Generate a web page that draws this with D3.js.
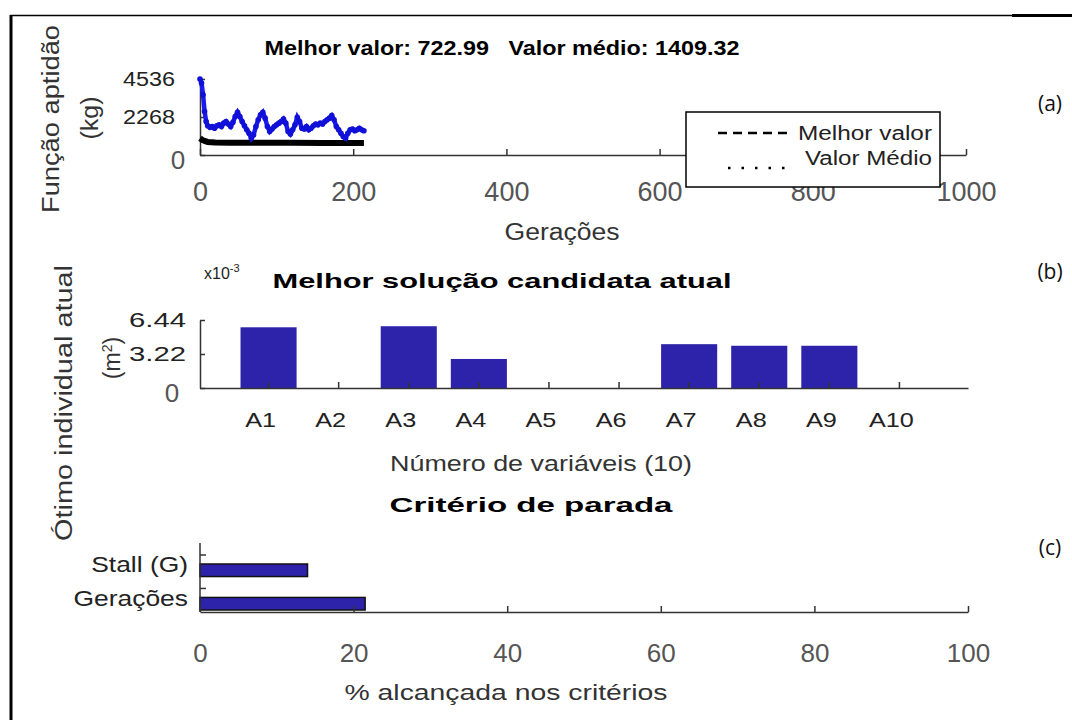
<!DOCTYPE html>
<html>
<head>
<meta charset="utf-8">
<script src="https://cdn.jsdelivr.net/npm/d3@7"></script>
<style>
body{margin:0;background:#fff}
text{font-family:"Liberation Sans",Arial,sans-serif}
.axis path,.axis line{stroke:#333;stroke-width:1.5px}
</style>
</head>
<body>
<div id="fig"></div>
<script>
// (a) evolucao da aptidao por geracao
var genMedia = [0,2,4,6,8,10,13,16,19,22,25,28,31,34,37,40,43,46,49,52,55,58,61,64,67,70,73,76,79,82,85,88,91,94,97,100,103,106,109,112,115,118,121,124,127,130,133,136,139,142,145,148,151,154,157,160,163,166,169,172,175,178,181,184,187,190,193,196,199,202,205,208,211,214];
var valMedia = [4536,4300,3600,2600,2000,1750,1650,1700,1600,1750,1800,1700,1900,2000,1850,1700,1950,2300,2550,2300,2000,1750,1500,1300,1000,1200,1700,2100,2400,2550,2200,1700,1400,1550,1700,1800,1900,2000,2150,1900,1400,1250,1500,1800,2250,2000,1600,1550,1700,1500,1600,1750,1850,1800,1900,1850,2000,2100,2200,2350,2100,1700,1500,1300,1100,1000,1300,1500,1550,1450,1500,1600,1500,1450];
var genMelhor = [0,3,6,10,20,40,80,120,160,214];
var valMelhor = [1000,900,840,780,750,735,728,725,723,723];
var ticksGer = [0,200,400,600,800,1000];
var ticksApt = [0,2268,4536];

// (b) melhor individuo
var variaveis = ["A1","A2","A3","A4","A5","A6","A7","A8","A9","A10"];
var areas = [5.75,0,5.85,2.75,0,0,4.15,4.0,4.0,0];   // x10^-3 m2
var ticksArea = [0,3.22,6.44];

// (c) criterios de parada
var criterios = ["Stall (G)","Gerações"];
var percentual = [14,21.5];
var ticksPct = [0,20,40,60,80,100];

var W = 1072, H = 720;
var svg = d3.select("#fig").append("svg")
	.attr("width",W).attr("height",H);

// moldura
svg.append("line").attr("x1",11).attr("x2",11).attr("y1",15).attr("y2",H)
	.attr("stroke","#000").attr("stroke-width",3);
svg.append("line").attr("x1",10).attr("x2",1012).attr("y1",15.5).attr("y2",15.5)
	.attr("stroke","#000").attr("stroke-width",1.5);
svg.append("line").attr("x1",1012).attr("x2",W).attr("y1",15.5).attr("y2",15.5)
	.attr("stroke","#000").attr("stroke-width",3);

// the reference picture is stretched sideways, so text widths are forced
function fit(sel,len){
	return sel.attr("textLength",len).attr("lengthAdjust","spacingAndGlyphs");
}
function stretch(sel,sx){
	sel.each(function(){
		var l = this.getComputedTextLength();
		d3.select(this).attr("textLength",l*sx).attr("lengthAdjust","spacingAndGlyphs");
	});
	return sel;
}
function label(str,x,y,size,len,opts){
	opts = opts || {};
	var t = svg.append("text")
		.attr("x",x).attr("y",y)
		.attr("text-anchor",opts.anchor || "middle")
		.style("font-size",size+"px")
		.style("font-weight",opts.bold ? "bold" : "normal")
		.attr("fill",opts.fill || "#333")
		.text(str);
	if(len) fit(t,len);
	return t;
}
function rotLabel(str,x,y,size,len){
	var t = svg.append("text")
		.attr("transform","translate("+x+","+y+")rotate(-90)")
		.attr("text-anchor","middle")
		.attr("dy","0.35em")
		.style("font-size",size+"px")
		.attr("fill","#333")
		.text(str);
	if(len) fit(t,len);
	return t;
}
function zeroStyle(g,dx){
	g.selectAll(".tick text").filter(function(d){return d===0;})
		.style("font-size","26px").attr("fill","#555")
		.attr("text-anchor","middle").attr("x",dx).attr("dy","0.5em")
		.attr("textLength",null);
}

// ---------- (a) ----------
var x1 = d3.scaleLinear().domain([0,1000]).range([200,966]);
var y1 = d3.scaleLinear().domain([0,4536]).range([155,79]);

label("Melhor valor: 722.99   Valor médio: 1409.32",502,55,21,475,{bold:true,fill:"#000"})
	.style("white-space","pre");

svg.append("g").attr("class","axis")
	.attr("transform","translate(0,155)")
	.call(d3.axisBottom(x1).tickValues(ticksGer).tickFormat(d3.format("d"))
		.tickSizeInner(-6).tickSizeOuter(0).tickPadding(27))
	.selectAll("text").style("font-size","27px").attr("fill","#555");

svg.append("g").attr("class","axis")
	.attr("transform","translate(200,0)")
	.call(d3.axisLeft(y1).tickValues(ticksApt).tickFormat(d3.format("d"))
		.tickSizeInner(-5).tickSizeOuter(0).tickPadding(25))
	.call(function(g){
		fit(g.selectAll("text").style("font-size","20px").attr("fill","#222"),52);
		zeroStyle(g,-22);
	});

rotLabel("Função aptidão",51,119,23,188);
rotLabel("(kg)",90,118,23,43);
label("Gerações",562,240,23,115);

var serieMedia = genMedia.map(function(g,i){return [g,valMedia[i]];});
var serieMelhor = genMelhor.map(function(g,i){return [g,valMelhor[i]];});
var linha = d3.line().x(function(d){return x1(d[0]);}).y(function(d){return y1(d[1]);});

svg.append("path").datum(serieMelhor)
	.attr("d",linha).attr("fill","none")
	.attr("stroke","#000").attr("stroke-width",6);
svg.append("path").datum(serieMedia)
	.attr("d",linha).attr("fill","none")
	.attr("stroke","#1a1aee").attr("stroke-width",4.5);
svg.selectAll(".pt").data(serieMedia).enter()
	.append("circle").attr("class","pt")
	.attr("cx",function(d){return x1(d[0]);})
	.attr("cy",function(d){return y1(d[1]);})
	.attr("r",2.8).attr("fill","#1010d8");

// legenda
svg.append("rect").attr("x",686).attr("y",112).attr("width",254).attr("height",75)
	.attr("fill","#fff").attr("stroke","#000").attr("stroke-width",1.5);
svg.append("line").attr("x1",718).attr("x2",792).attr("y1",133).attr("y2",133)
	.attr("stroke","#000").attr("stroke-width",2.5).attr("stroke-dasharray","9,6");
svg.append("line").attr("x1",728).attr("x2",786).attr("y1",168).attr("y2",168)
	.attr("stroke","#000").attr("stroke-width",2.5).attr("stroke-dasharray","2.5,11");
label("Melhor valor",932,140,20,134,{anchor:"end",fill:"#222"});
label("Valor Médio",932,165,20,127,{anchor:"end",fill:"#222"});

// ---------- (b) ----------
var x2 = d3.scaleBand().domain(variaveis).range([200,968]).paddingInner(0.2).paddingOuter(0.578);
var y2 = d3.scaleLinear().domain([0,6.44]).range([388,320]);

var exp = svg.append("text").attr("x",204).attr("y",279)
	.style("font-size","16px").attr("fill","#222");
exp.append("tspan").text("x10");
exp.append("tspan").attr("dy",-7).style("font-size","11px").text("-3");

label("Melhor solução candidata atual",502,288,21,459,{bold:true,fill:"#000"});

svg.selectAll(".barA").data(areas).enter()
	.append("rect").attr("class","barA")
	.attr("x",function(d,i){return x2(variaveis[i]);})
	.attr("width",x2.bandwidth())
	.attr("y",function(d){return y2(d);})
	.attr("height",function(d){return y2(0)-y2(d);})
	.attr("fill","#2d23ab");

svg.append("g").attr("class","axis")
	.attr("transform","translate(0,388)")
	.call(d3.axisBottom(x2).tickSizeInner(-6).tickSizeOuter(0).tickPadding(24))
	.call(function(g){
		stretch(g.selectAll("text").style("font-size","21px").attr("fill","#222").attr("dx","-8"),1.2);
	});

svg.append("g").attr("class","axis")
	.attr("transform","translate(200,0)")
	.call(d3.axisLeft(y2).tickValues(ticksArea).tickFormat(function(d){return d===0?"0":d3.format(".2f")(d);})
		.tickSizeInner(-5).tickSizeOuter(0).tickPadding(14))
	.call(function(g){
		fit(g.selectAll("text").style("font-size","21px").attr("fill","#222"),57);
		zeroStyle(g,-28);
	});

label("Número de variáveis (10)",541,471,22,302);

rotLabel("Ótimo individual atual",64,403,23,276);
var m2 = svg.append("text")
	.attr("transform","translate(112,358)rotate(-90)")
	.attr("text-anchor","middle").attr("dy","0.35em")
	.style("font-size","23px").attr("fill","#333");
m2.append("tspan").text("(m");
m2.append("tspan").attr("dy",-8).style("font-size","14px").text("2");
m2.append("tspan").attr("dy",8).text(")");

// ---------- (c) ----------
var x3 = d3.scaleLinear().domain([0,100]).range([200,968]);
var y3 = d3.scaleBand().domain(criterios).range([563,611]).paddingInner(0.625).paddingOuter(0.03);

label("Critério de parada",531,512,21,283,{bold:true,fill:"#000"});

svg.selectAll(".barC").data(percentual).enter()
	.append("rect").attr("class","barC")
	.attr("x",x3(0))
	.attr("y",function(d,i){return y3(criterios[i]);})
	.attr("width",function(d){return x3(d)-x3(0);})
	.attr("height",y3.bandwidth())
	.attr("fill","#2d23ab").attr("stroke","#111").attr("stroke-width",1.5);

svg.append("g").attr("class","axis")
	.attr("transform","translate(0,612)")
	.call(d3.axisBottom(x3).tickValues(ticksPct).tickSizeInner(-6).tickSizeOuter(0).tickPadding(32))
	.selectAll("text").style("font-size","26px").attr("fill","#555");

svg.append("line").attr("x1",200).attr("x2",200).attr("y1",543).attr("y2",612)
	.attr("stroke","#333").attr("stroke-width",1.5);
svg.append("g").attr("class","axis")
	.attr("transform","translate(200,0)")
	.call(d3.axisLeft(y3).tickSize(0).tickPadding(12))
	.call(function(g){
		g.select(".domain").remove();
		stretch(g.selectAll("text").style("font-size","22px").attr("fill","#222").attr("dy","0.1em"),1.2);
	});
svg.selectAll(".tkC").data(criterios).enter()
	.append("line").attr("class","tkC")
	.attr("x1",200).attr("x2",206)
	.attr("y1",function(d){return y3(d)-9;})
	.attr("y2",function(d){return y3(d)-9;})
	.attr("stroke","#333").attr("stroke-width",1.5);

label("% alcançada nos critérios",506,700,22,323);

// rotulos dos paineis
[["(a)",104],["(b)",272],["(c)",548]].forEach(function(p){
	svg.append("text").attr("x",1050).attr("y",p[1]).attr("dy","0.35em")
		.attr("text-anchor","middle")
		.style("font-family","'Open Sans',sans-serif").style("font-size","21px")
		.attr("fill","#111").text(p[0]);
});
</script>
</body>
</html>
